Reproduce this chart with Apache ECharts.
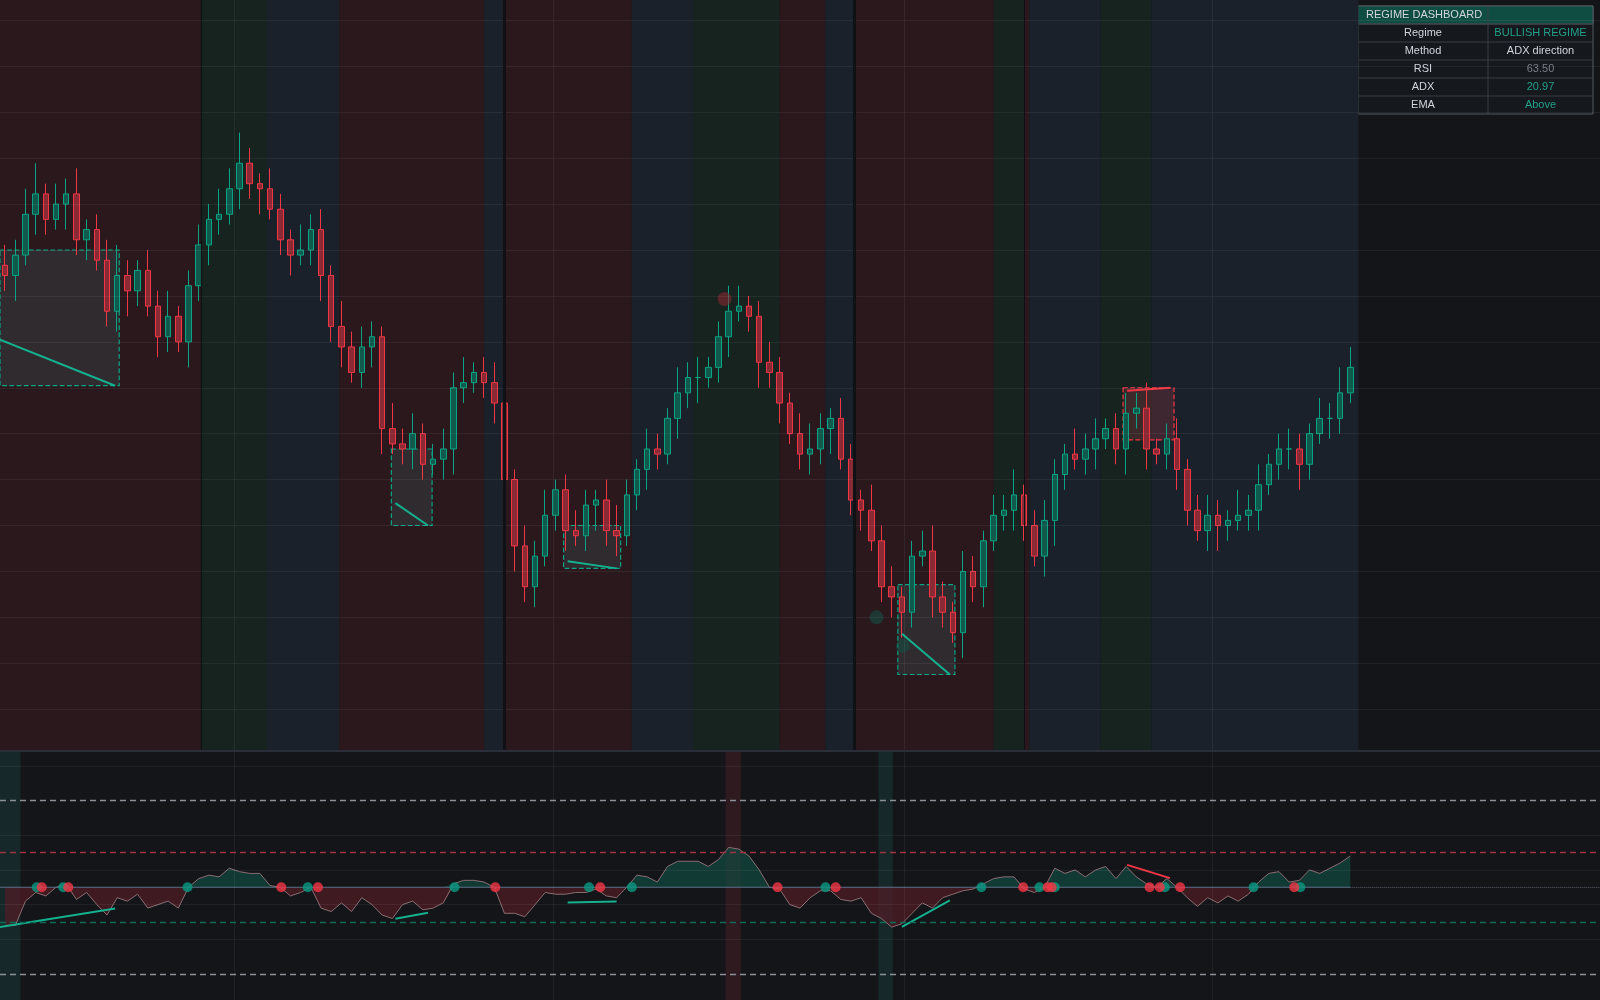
<!DOCTYPE html><html><head><meta charset="utf-8">
<script src="https://cdn.jsdelivr.net/npm/echarts@6/dist/echarts.min.js"></script>
<style>html,body{margin:0;background:#131519}#c{width:1600px;height:1000px}</style></head><body><div id="c"></div>
<script>
const closes=[93,97,105,109,104,107,109,100,102,96,86,93,90,94,87,81,85,80,91,99,104,105,110,115,111,110,106,100,97,98,102,93,83,79,74,79,81,63,60,59,62,56,57,59,71,72,74,72,68,53,40,32,38,46,51,43,42,48,49,43,42,50,55,59,58,65,70,73,73,75,81,86,87,85,76,74,68,62,58,59,63,65,57,49,47,41,32,30,27,38,39,30,27,23,35,32,41,46,47,50,44,38,45,54,58,57,59,61,63,59,66,67,59,58,61,55,47,43,46,44,45,46,47,52,56,59,59,56,62,65,65,70,75];
const wickUp=[4,3,5,6,2,4,3,5,2,3,4,6,3,2,4,3,5,2,3,4,3,5,4,6,3,2,4,3,2,5,3,4,2,5,3,4,3,2,5,3,4,2,3,4,3,5,2,3,4,3,2,4,3,5,2,3,4,3,2,4,5,3,2,4,3,2,5,3,4,2,3,5,4,2,3,4,3,2,4,5,3,2,4,3,2,5,3,4,2,3,4,5,3,2,4,3,2,4,3,5,2,3,4,3,2,5,3,4,2,3,4,3,5,2,3,4,2,3,4,3,2,5,3,4,2,3,4,3,2,4,3,5,4];
const wickDn=[3,5,2,4,3,2,5,3,4,2,3,4,5,3,2,4,3,2,5,3,4,3,2,4,3,5,2,3,4,2,3,5,3,4,2,3,4,5,2,3,4,3,2,4,5,3,2,3,4,2,5,3,4,2,3,4,2,3,5,3,4,2,3,4,3,2,4,3,5,2,3,4,2,3,5,3,4,2,3,4,3,5,2,3,4,2,3,4,5,3,2,4,3,2,5,3,4,2,3,4,3,2,4,5,3,2,3,4,2,3,5,3,4,2,3,4,3,2,4,5,3,2,3,4,2,3,4,5,3,2,4,3,2];
const osc=[-22,-22,-8,-3,-5,0,2,-7,-3,-10,-16,-6,-8,-4,-12,-10,-8,-12,0,5,7,6,11,9,8,8,1,0,-5,-3,0,-12,-14,-9,-14,-6,-10,-16,-18,-10,-8,-13,-12,-9,2,4,4,3,0,-15,-15,-17,-10,-3,-4,-4,-3,-3,-1,-5,-6,0,7,6,3,12,15,15,15,12,16,23,22,18,10,0,-1,-10,-12,-6,-2,-2,-7,-8,-6,-15,-18,-23,-21,-15,-9,-12,-6,-4,-2,-1,2,5,6,6,-1,-3,0,11,8,10,6,10,12,5,12,6,2,0,5,0,-6,-11,-6,-9,-5,-8,-4,3,8,9,3,4,10,8,11,14,18];
const greenDots=[3.1,5.7,17.9,29.7,44.1,57.3,61.5,80.5,95.8,101.5,103,113.8,122.5,127.1];
const redDots=[3.6,6.2,27.1,30.7,48.1,58.4,75.8,81.5,99.9,102.3,102.7,112.3,113.3,115.3,126.5];
const bands=[[-0.5,19.2,'r'],[19.2,25.7,'t'],[25.7,32.8,'b'],[32.8,47,'r'],[47,49,'b'],[49.1,61.5,'r'],[61.5,67.5,'b'],[67.5,76,'t'],[76,80.5,'r'],[80.5,83.3,'b'],[83.5,97,'r'],[97,100,'t'],[100,100.5,'r'],[100.5,107.5,'b'],[107.5,112.5,'t'],[112.5,132.8,'b']];
const separators=[[19.2,1],[49,3],[83.3,3],[100,1]];
const lowerBands=[[-0.5,1.5,'t'],[70.7,72.2,'r'],[85.7,87.1,'t']];
const boxes=[[-0.5,11.2,98,71.4,'g'],[37.9,41.9,59,44,'g'],[54.8,60.4,44,35.6,'g'],[87.6,93.2,32.4,14.8,'g'],[109.7,114.7,71,60.8,'r']];
const priceDiv=[[[-0.5,80.4],[10.8,71.4],'g'],[[38.3,48.4],[41.5,44],'g'],[[55.2,37],[60,35.6],'g'],[[88,22.8],[92.7,14.8],'g'],[[110.1,70.4],[114.3,71],'r']];
const oscDiv=[[[-0.5,-22.9],[10.8,-12.3],'g'],[[38.3,-18.2],[41.5,-14.7],'g'],[[55.2,-8.8],[60,-8.2],'g'],[[88,-22.9],[92.7,-7.6],'g'],[[110.1,12.9],[114.3,5.3],'r']];
const circles=[[70.6,88.4,'r'],[85.5,26,'g'],[88.1,20.4,'g']];
const gridLevels=[143,134,125,116,107,98,89,80,71,62,53,44,35,26,17,8];
const vLines=[22.5,53.8,88.2,118.5];
const oscLevels=[[50,'#8b8f98'],[20,'#a0333f'],[-20,'#0e6b58'],[-50,'#8b8f98']];
const oscGrid=[70,30,10,-10,-30];
const dash=[['Regime','BULLISH REGIME','#22a088'],['Method','ADX direction','#d1d4dc'],['RSI','63.50','#7a7d85'],['ADX','20.97','#22a088'],['EMA','Above','#22a088']];

const N=157, cats=[...Array(N).keys()].map(String);
const bandCol={r:'#2a181d',t:'#17231f',b:'#1a212b'};
const G='#0aa383',R='#f23645';
const candles=closes.map((c,i)=>{const o=i?closes[i-1]:c+2;return [o,c,Math.min(o,c)-wickDn[i],Math.max(o,c)+wickUp[i]];});
const pos=osc.map(v=>v>0?v:0),neg=osc.map(v=>v<0?v:0);
const series=[];
series.push({type:'line',xAxisIndex:2,yAxisIndex:0,data:[],silent:true,
 markArea:{silent:true,data:bands.map(b=>[{xAxis:b[0],itemStyle:{color:bandCol[b[2]]}},{xAxis:b[1]}])},
 markLine:{silent:true,symbol:'none',label:{show:false},data:[
  ...gridLevels.map(v=>({yAxis:v,lineStyle:{color:'rgba(255,255,255,0.06)',type:'solid',width:1}})),
  ...vLines.map(v=>({xAxis:v,lineStyle:{color:'rgba(255,255,255,0.06)',type:'solid',width:1}})),
  ...separators.map(v=>({xAxis:v[0],lineStyle:{color:'#0f1114',type:'solid',width:v[1]}}))]}});
boxes.forEach(b=>{const c=b[4]=='g'?G:R;series.push({type:'line',xAxisIndex:2,yAxisIndex:0,data:[],silent:true,
 markArea:{silent:true,itemStyle:{color:b[4]=='g'?'rgba(60,80,80,0.35)':'rgba(120,50,60,0.4)',borderColor:c,borderType:'dashed',borderWidth:1.2},data:[[{xAxis:b[0],yAxis:b[2]},{xAxis:b[1],yAxis:b[3]}]]}});});
series.push({type:'candlestick',xAxisIndex:0,yAxisIndex:0,data:candles,barWidth:6,
 itemStyle:{color:'#0f5a4c',color0:'#8a2a35',borderColor:G,borderColor0:R,borderWidth:1}});
priceDiv.forEach(d=>series.push({type:'line',xAxisIndex:2,yAxisIndex:0,data:[d[0],d[1]],symbol:'none',lineStyle:{color:d[2]=='g'?'#14b08f':R,width:2}}));
series.push({type:'scatter',xAxisIndex:2,yAxisIndex:0,data:circles.map(c=>[c[0],c[1]]),symbolSize:14,
 itemStyle:{color:p=>circles[p.dataIndex][2]=='r'?'rgba(140,40,50,0.7)':'rgba(20,80,70,0.7)'}});
series.push({type:'line',xAxisIndex:3,yAxisIndex:1,data:[],silent:true,
 markArea:{silent:true,data:lowerBands.map(b=>[{xAxis:b[0],itemStyle:{color:b[2]=='r'?'#2e1a1f':'#16282a'}},{xAxis:b[1]}])},
 markLine:{silent:true,symbol:'none',label:{show:false},data:[
  ...oscGrid.map(v=>({yAxis:v,lineStyle:{color:'rgba(255,255,255,0.06)',type:'solid',width:1}})),
  ...vLines.map(v=>({xAxis:v,lineStyle:{color:'rgba(255,255,255,0.06)',type:'solid',width:1}})),
  ...oscLevels.map(l=>({yAxis:l[0],lineStyle:{color:l[1],type:[6,4],width:1.3}})),
  [{coord:[132,0],lineStyle:{color:'#555a63',type:'dotted',width:1}},{coord:[156.5,0]}]]}});
series.push({type:'line',xAxisIndex:1,yAxisIndex:1,data:pos,symbol:'none',lineStyle:{width:0},areaStyle:{color:'#124a40',origin:0},z:2});
series.push({type:'line',xAxisIndex:1,yAxisIndex:1,data:neg,symbol:'none',lineStyle:{width:0},areaStyle:{color:'#521c25',origin:0},z:2});
series.push({type:'line',xAxisIndex:1,yAxisIndex:1,data:osc,symbol:'none',lineStyle:{width:1,color:'#8a6d72'},z:3});
series.push({type:'line',xAxisIndex:3,yAxisIndex:1,data:[[-0.5,0],[132,0]],symbol:'none',lineStyle:{width:1.2,color:'#5d6f88'},z:3});
oscDiv.forEach(d=>series.push({type:'line',xAxisIndex:3,yAxisIndex:1,data:[d[0],d[1]],symbol:'none',lineStyle:{color:d[2]=='g'?'#14b08f':R,width:2},z:4}));
series.push({type:'scatter',xAxisIndex:3,yAxisIndex:1,data:greenDots.map(x=>[x,0]),symbolSize:10,itemStyle:{color:'#089981'},z:5});
series.push({type:'scatter',xAxisIndex:3,yAxisIndex:1,data:redDots.map(x=>[x,0]),symbolSize:10,itemStyle:{color:R},z:5});

const tx=1358,ty=6,cw=[130,105],rh=18;
const gr=[{type:'rect',shape:{x:tx,y:ty,width:235,height:rh*6},style:{fill:'#15181d',stroke:'#555a63',lineWidth:1}},
 {type:'rect',shape:{x:tx,y:ty,width:235,height:rh},style:{fill:'#0f4d43',stroke:'#555a63'}},
 {type:'text',x:tx+8,y:ty+rh/2,style:{text:'REGIME DASHBOARD',fill:'#d1d4dc',font:'11px Arial',verticalAlign:'middle'}},
 {type:'line',shape:{x1:tx+cw[0],y1:ty,x2:tx+cw[0],y2:ty+rh*6},style:{stroke:'#3a3e46'}}];
dash.forEach((r,i)=>{const y=ty+rh*(i+1);
 gr.push({type:'line',shape:{x1:tx,y1:y,x2:tx+235,y2:y},style:{stroke:'#3a3e46'}});
 gr.push({type:'text',x:tx+cw[0]/2,y:y+rh/2,style:{text:r[0],fill:'#d1d4dc',font:'11px Arial',align:'center',verticalAlign:'middle'}});
 gr.push({type:'text',x:tx+cw[0]+cw[1]/2,y:y+rh/2,style:{text:r[1],fill:r[2],font:'11px Arial',align:'center',verticalAlign:'middle'}});});
gr.push({type:'rect',shape:{x:0,y:750,width:1600,height:2},style:{fill:'#2a2e39'}});

const hid={show:false},ax=(t,g)=>t=='c'?{type:'category',data:cats,gridIndex:g,boundaryGap:true,axisLine:hid,axisTick:hid,axisLabel:hid}:{type:'value',min:-0.5,max:156.5,gridIndex:g,show:false,splitLine:hid};
const chart=echarts.init(document.getElementById('c'));
chart.setOption({backgroundColor:'#131519',animation:false,
 grid:[{left:0,right:0,top:0,height:750},{left:0,right:0,top:752,bottom:0}],
 xAxis:[ax('c',0),ax('c',1),ax('v',0),ax('v',1)],
 yAxis:[{min:0,max:147,gridIndex:0,show:false,splitLine:hid},{min:-65,max:78,gridIndex:1,show:false,splitLine:hid}],
 series,graphic:gr});
</script></body></html>
